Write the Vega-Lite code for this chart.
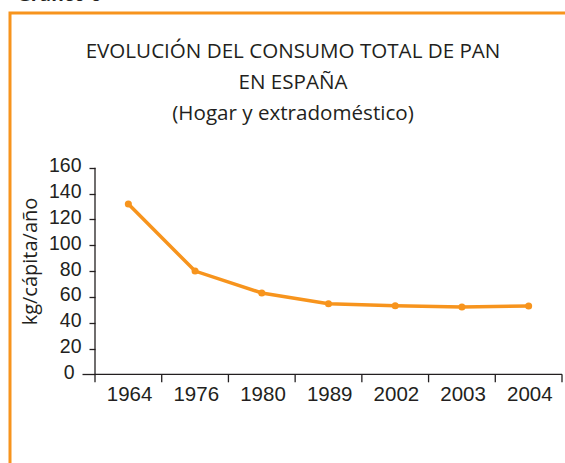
{
  "$schema": "https://vega.github.io/schema/vega-lite/v6.json",
  "width": 637,
  "height": 471,
  "autosize": {"type": "none"},
  "padding": {"left": 10, "top": 13, "right": 0, "bottom": 0},
  "background": "white",
  "title": {
    "text": ["EVOLUCIÓN DEL CONSUMO TOTAL DE PAN", "EN ESPAÑA", "(Hogar y extradoméstico)"],
    "anchor": "middle",
    "frame": "group",
    "dx": -35.5,
    "offset": -139,
    "font": "Open Sans",
    "fontSize": 20.6,
    "fontWeight": "normal",
    "lineHeight": 31,
    "color": "#231F20"
  },
  "data": {"values": [
    {"year": "1964", "consumo": 132},
    {"year": "1976", "consumo": 80},
    {"year": "1980", "consumo": 63},
    {"year": "1989", "consumo": 54.7},
    {"year": "2002", "consumo": 53.2},
    {"year": "2003", "consumo": 52.2},
    {"year": "2004", "consumo": 52.9}
  ]},
  "layer": [
    {
      "data": {"values": [{}]},
      "mark": {"type": "rule", "color": "#231F20", "strokeWidth": 1.3},
      "encoding": {
        "x": {"datum": "1964", "type": "ordinal", "bandPosition": 0},
        "y": {"datum": 0, "type": "quantitative"},
        "y2": {"datum": 160}
      }
    },
    {
      "data": {"values": [{}]},
      "mark": {"type": "rule", "color": "#231F20", "strokeWidth": 1.3},
      "encoding": {
        "x": {"datum": "1964", "type": "ordinal", "bandPosition": 0},
        "x2": {"datum": "2004", "bandPosition": 1},
        "y": {"datum": 0, "type": "quantitative"}
      }
    },
    {
      "mark": {"type": "rule", "color": "#231F20", "strokeWidth": 1.3},
      "encoding": {
        "x": {"field": "year", "type": "ordinal", "bandPosition": 0},
        "y": {"datum": 0, "type": "quantitative"},
        "y2": {"datum": -6.2}
      }
    },
    {
      "data": {"values": [{}]},
      "mark": {"type": "rule", "color": "#231F20", "strokeWidth": 1.3},
      "encoding": {
        "x": {"datum": "2004", "type": "ordinal", "bandPosition": 1},
        "y": {"datum": 0, "type": "quantitative"},
        "y2": {"datum": -6.2}
      }
    },
    {
      "mark": {"type": "line", "color": "#F7941D", "strokeWidth": 3.5, "point": {"filled": true, "size": 50, "color": "#F7941D"}},
      "encoding": {
        "x": {
          "field": "year", "type": "ordinal", "sort": null,
          "scale": {"type": "band", "domain": ["1964", "1976", "1980", "1989", "2002", "2003", "2004"], "range": [85, 552], "paddingInner": 0, "paddingOuter": 0},
          "axis": {
            "orient": "bottom", "offset": -109.7,
            "domain": false, "grid": false, "ticks": true, "tickSize": 8, "tickOpacity": 0,
            "labelFont": "Liberation Sans", "labelFontSize": 20.5, "labelColor": "#231F20",
            "labelPadding": 12, "labelOffset": 24, "labelAngle": 0, "title": null
          }
        },
        "y": {
          "field": "consumo", "type": "quantitative",
          "scale": {"domain": [-85, 280], "nice": false, "zero": false},
          "axis": {
            "orient": "left", "offset": -85,
            "values": [0, 20, 40, 60, 80, 100, 120, 140, 160],
            "domain": false, "grid": false,
            "tickSize": {"condition": {"test": "datum.value === 0", "value": 13}, "value": 6},
            "tickColor": "#231F20", "tickWidth": 1.3,
            "labelFont": "Liberation Sans", "labelFontSize": 19.5, "labelColor": "#231F20",
            "labelPadding": 8,
            "labelOffset": -2,
            "title": "kg/cápita/año",
            "titleFont": "Open Sans", "titleFontSize": 20, "titleFontWeight": "normal",
            "titleColor": "#231F20", "titleX": -65, "titleY": 248,
            "titleAlign": "center", "titleBaseline": "middle", "titleAngle": -90
          }
        }
      }
    },
    {
      "data": {"values": [{"t": "Gráfico 6"}]},
      "mark": {"type": "text", "align": "left", "baseline": "alphabetic", "dx": -78, "font": "Open Sans", "fontSize": 19, "fontWeight": "bold", "color": "#231F20"},
      "encoding": {
        "x": {"datum": "1964", "type": "ordinal", "bandPosition": 0},
        "y": {"datum": 289.3, "type": "quantitative"},
        "text": {"field": "t"}
      }
    }
  ],
  "config": {
    "view": {"stroke": "#F7941D", "strokeWidth": 3}
  }
}
